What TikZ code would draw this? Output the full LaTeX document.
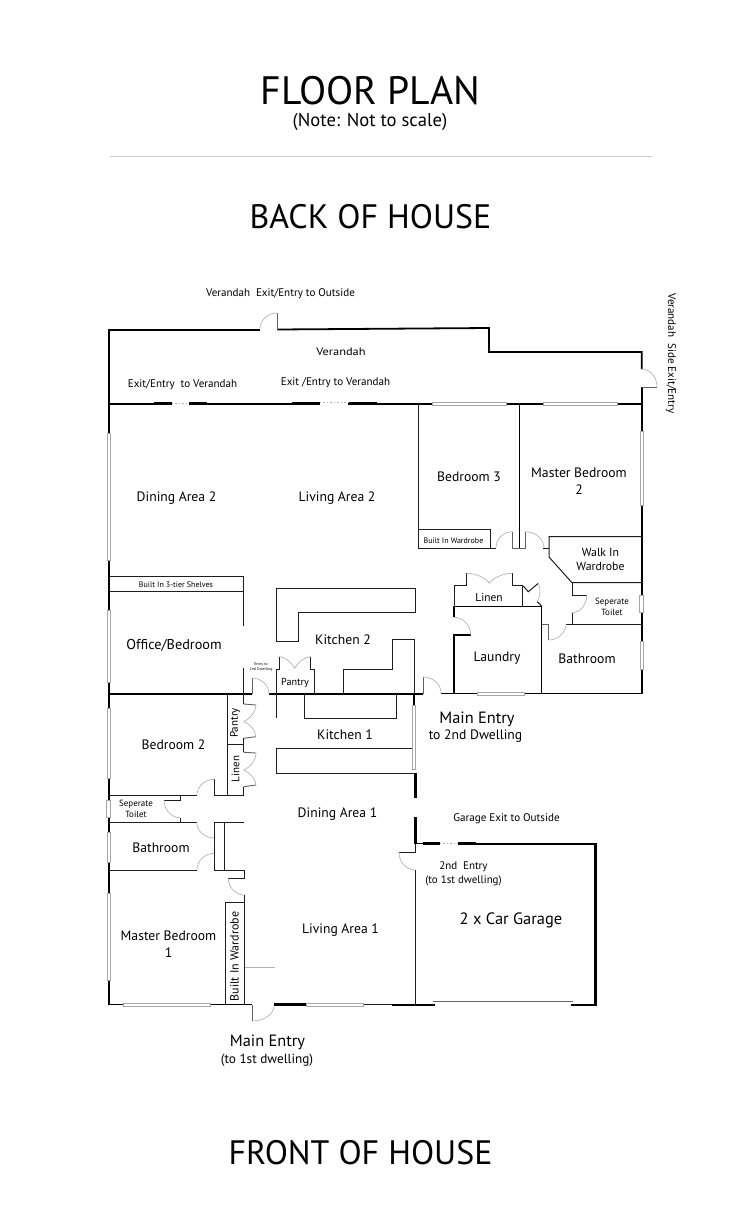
\documentclass[tikz,border=0pt]{standalone}
\usepackage{fontspec}
\setmainfont{PT Sans}
\usetikzlibrary{calc}
\definecolor{wallc}{HTML}{1E1E1E}
\definecolor{swingc}{HTML}{B4B4B4}
\tikzset{
  thin wall/.style={draw=wallc,line width=1pt,line cap=butt},
  mid wall/.style={draw=black,line width=1.5pt,line join=miter},
  heavy wall/.style={draw=black,line width=2.6pt},
  block wall/.style={draw=black,line width=3pt},
  door swing/.style={draw=swingc,line width=0.7pt},
  leaf line/.style={draw=wallc!70,line width=0.9pt},
  window pane/.style={draw=gray!70,fill=white,line width=0.6pt},
  slide line/.style={draw=gray!60,line width=0.6pt,dash pattern=on 1.5pt off 2pt},
  lab/.style={font=\fontsize{13.7}{15.5}\selectfont,text=black,inner sep=0pt,align=center,yshift=-1bp},
  smalllab/.style={font=\fontsize{11.1}{12.5}\selectfont,text=black,inner sep=0pt,align=center,yshift=-1bp},
  tinylab/.style={font=\fontsize{8}{10.5}\selectfont,text=black,inner sep=0pt,align=center,yshift=-0.5bp},
  toiletlab/.style={font=\fontsize{9}{11}\selectfont,text=black,inner sep=0pt,align=center},
  headlab/.style={inner sep=0pt,text=black,yshift=-0.7bp}
}
% door swing from A to B bulging towards corner C
\newcommand{\doorarc}[3]{\draw[door swing] (#1) .. controls ($(#1)!.55!(#3)$) and ($(#2)!.55!(#3)$) .. (#2);}
\newcommand{\vwin}[3]{\filldraw[window pane] (#1-1.4,#2) rectangle (#1+1.4,#3);}
\newcommand{\hwin}[3]{\filldraw[window pane] (#1,#3-1.4) rectangle (#2,#3+1.4);}
\begin{document}
\begin{tikzpicture}[x=1bp,y=-1bp]
\useasboundingbox[fill=white] (0,0) rectangle (750,1232);
% Heading
\node[headlab,font=\fontsize{39.8}{44}\selectfont] (title) at (370.5,90) {FLOOR PLAN};
\node[headlab,font=\fontsize{18.7}{22}\selectfont] (note) at (370,121) {(Note: Not to scale)};
\draw[draw=gray!40,line width=1pt] (110,156.5) -- (652,156.5);
\node[headlab,font=\fontsize{34}{38}\selectfont] (back) at (370.5,216) {BACK OF HOUSE};
\node[headlab,font=\fontsize{34}{38}\selectfont] (front) at (360.5,1152) {FRONT OF HOUSE};

% Verandah outer walls
\draw[mid wall,line width=1.8pt] (260,330) -- (108.7,330) -- (108.7,1004.5) -- (252.3,1004.5);
\draw[mid wall,line width=1.8pt] (277,329.5) -- (489,328) -- (489,352) -- (641.7,352) -- (641.7,369);
\draw[mid wall,line width=1.8pt] (641.7,387) -- (641.7,693.5);
\draw[leaf line] (277,313) -- (277,329.5);
\doorarc{260,329}{277,313}{260,313}
\draw[leaf line] (641.7,387) -- (657,387);
\doorarc{641.7,369}{657,387}{657,369}

% Back wall of house
\draw[mid wall] (108.7,404) -- (172,404);
\draw[mid wall] (189,404) -- (320,404);
\draw[mid wall] (348,404) -- (641.7,404);
\foreach \a/\b in {154/172,189/207,292/320,348/377}{\draw[block wall] (\a,403.5) -- (\b,403.5);}
\draw[slide line] (172,403) -- (189,403);
\draw[slide line] (320,402.5) -- (348,402.5);
\hwin{432}{506}{404}
\hwin{543}{617}{404}

% Left and right windows
\vwin{108.7}{433}{560}
\vwin{108.7}{610}{682}
\vwin{108.7}{708}{778}
\filldraw[window pane] (105.8,800) rectangle (110,817);
\vwin{108.7}{832}{862}
\vwin{108.7}{893}{980}
\vwin{641.7}{431}{505}
\filldraw[window pane] (639.5,595) rectangle (643,612);
\vwin{641.7}{641}{669}

% Central dividing wall
\draw[heavy wall] (110,694) -- (252,694);
\draw[heavy wall] (269,694) -- (423,694);
\draw[mid wall] (441,693.5) -- (641.7,693.5);
\hwin{477}{524}{693.5}
\draw[leaf line] (423,677) -- (423,694);
\doorarc{423,677}{441,693}{441,677}
\draw[leaf line] (252,678) -- (252,694);
\doorarc{252,678}{269,694}{269,678}

% Bedroom 3 and Master Bedroom 2
\draw[thin wall] (418.5,404) -- (418.5,548) -- (496,548);
\draw[thin wall] (418.5,529.5) -- (490.5,529.5) -- (490.5,548);
\draw[mid wall,line width=1.3pt] (519.7,404) -- (519.7,548);
\draw[leaf line] (512.3,531.7) -- (512.3,548) -- (525.7,548) -- (525.7,531.7);
\doorarc{496,548}{512.3,531.7}{496,531.7}
\doorarc{525.7,531.7}{544,548}{544,531.7}

% Walk in wardrobe and separate toilet
\draw[thin wall] (543,548) -- (549,548);
\draw[thin wall] (641.7,536.7) -- (549,536.7) -- (549,557) -- (572,582.7) -- (641.7,582.7);
\draw[thin wall] (572,582.7) -- (572,595) -- (586.7,595);
\draw[thin wall] (572,612.7) -- (572,624);
\draw[thin wall] (566,624) -- (641.7,624);
\doorarc{586.7,595}{572,612.7}{586.7,612.7}
\draw[leaf line] (542,624) -- (548.3,624) -- (548.3,640);
\doorarc{548.3,640}{566,624}{566,640}

% Linen and laundry
\draw[thin wall] (454,606.7) -- (454,585.7) -- (466.7,585.7) -- (466.7,573.3);
\draw[thin wall] (512.3,573.3) -- (512.3,585.7) -- (522.7,585.7) -- (522.7,606.7);
\doorarc{466.7,573.3}{489.3,583.3}{483,573.3}
\doorarc{512.3,573.3}{489.3,583.3}{496,573.3}
\draw[thin wall] (523.3,586) -- (528.3,591.7) -- (538.3,583.3);
\doorarc{538.3,583.3}{537.3,601.7}{543,591}
\draw[thin wall] (537.3,601.7) -- (541.7,606);
\draw[mid wall] (454,617.3) -- (454,606.7) -- (541.7,606.7) -- (541.7,693.5);
\draw[mid wall] (470.7,635) -- (454,635) -- (454,693.5);
\doorarc{470.7,635}{454,617.3}{470.7,617.3}

% Office and shelves
\draw[thin wall] (108.7,576.7) -- (243.3,576.7) -- (243.3,626);
\draw[thin wall] (108.7,591.7) -- (243.3,591.7);
\draw[thin wall] (243.3,668) -- (243.3,694);

% Kitchen 2 benches and pantry
\draw[thin wall] (276.7,588.3) -- (415.3,588.3) -- (415.3,612.7) -- (298.7,612.7) -- (298.7,641.7) -- (276.7,641.7) -- cycle;
\draw[thin wall] (343,694) -- (343,669) -- (392.3,669) -- (392.3,639.7) -- (414.3,639.7) -- (414.3,694);
\draw[thin wall] (276,694) -- (276,669) -- (279.3,669) -- (279.3,656.7);
\draw[thin wall] (310.7,656.7) -- (310.7,669) -- (314.3,669) -- (314.3,694);
\doorarc{279.3,656.7}{294.7,668.3}{289,656.7}
\doorarc{310.7,656.7}{294.7,668.3}{301,656.7}

% Kitchen 1
\draw[thin wall] (276,694) -- (276,718.3);
\draw[thin wall] (304,694) -- (304,718.3) -- (396.7,718.3) -- (396.7,694);
\draw[thin wall] (412.7,748.7) -- (276,748.7) -- (276,773) -- (415,773);
\draw[mid wall] (414,694) -- (414,705);
\vwin{413.5}{705}{769}

% Pantry and linen, central
\draw[thin wall] (227.7,694) -- (227.7,795);
\draw[thin wall] (227.7,744.3) -- (243.7,744.3);
\draw[thin wall] (243.7,694) -- (243.7,704);
\draw[leaf line] (243.7,704) -- (256,705);
\doorarc{256,705}{243.7,721.7}{256,716}
\doorarc{243.7,721.7}{255.7,736.7}{256,726}
\draw[leaf line] (255.7,736.7) -- (243.7,738.3);
\draw[thin wall] (243.7,738.3) -- (243.7,752.3);
\draw[leaf line] (243.7,752.3) -- (256,753);
\doorarc{256,753}{243.7,770}{256,765}
\doorarc{243.7,770}{256,785}{256,775}
\draw[leaf line] (256,785) -- (243.7,786.7);
\draw[thin wall] (243.7,786.7) -- (243.7,795);

% Bedroom 2 block
\draw[thin wall] (108.7,795) -- (197,795);
\draw[thin wall] (214.3,779.3) -- (214.3,795) -- (244,795);
\doorarc{214.3,779.3}{197,795}{197,779.3}
\draw[thin wall] (180,795) -- (180,800) -- (164,800);
\doorarc{164,800}{180,817.7}{164,817.7}
\draw[thin wall] (180,817.7) -- (180,822.3);
\draw[thin wall] (108.7,822.3) -- (196.7,822.3);
\doorarc{196.7,822.3}{214.3,838}{196.7,838}
\draw[thin wall] (244,822.3) -- (214.3,822.3) -- (214.3,870) -- (244.3,870) -- (244.3,878.3) -- (228.3,878.3);
\draw[thin wall] (224.3,822.3) -- (224.3,870);
\draw[thin wall] (108.7,870) -- (197,870);
\doorarc{214.3,853.3}{197,870}{197,853.3}
\doorarc{228.3,878.3}{244.7,895}{228.3,895}

% Master bedroom 1
\draw[thin wall] (244.7,895) -- (244.7,1004.5);
\draw[thin wall] (225.7,1004.5) -- (225.7,902.3) -- (244.7,902.3);
\draw[draw=gray!60,line width=1pt] (245,967.7) -- (275.3,967.7);

% Front wall
\hwin{123.3}{210}{1004.5}
\draw[leaf line] (252.3,1004.5) -- (252.3,1021);
\doorarc{252.3,1021}{274.3,1005}{274.3,1021}
\draw[heavy wall] (274.3,1004.5) -- (306.7,1004.5);
\draw[thin wall] (363,1004.5) -- (392,1004.5);
\filldraw[window pane] (306.7,1002.8) rectangle (363,1005.8);

% Garage
\draw[heavy wall] (415.6,773) -- (415.6,798);
\draw[heavy wall] (415.6,817) -- (415.6,843.5);
\draw[thin wall] (415.3,843) -- (415.3,852.3) -- (399,852.3);
\doorarc{399,852.3}{415.3,870}{399,870}
\draw[thin wall] (415.3,870) -- (415.3,1005);
\draw[mid wall] (415.3,843.5) -- (440,843.5);
\draw[heavy wall] (422.7,843.5) -- (440,843.5);
\draw[slide line] (440,842.8) -- (458,842.8);
\draw[heavy wall] (458,843.7) -- (475.7,843.7);
\draw[heavy wall] (475.7,844) -- (595.7,844) -- (595.7,1005) -- (571,1005);
\draw[heavy wall] (391.7,1005) -- (435,1005);
\draw[draw=gray!80!black,line width=0.8pt] (433,1001.7) -- (572.7,1001.7);

% Labels
\node[smalllab] (l1) at (280.5,292.5) {Verandah\ \ Exit/Entry to Outside};
\node[smalllab,font=\fontsize{10.8}{12}\selectfont,xscale=1.15] (l2) at (341,351) {Verandah};
\node[smalllab,rotate=-90,yshift=1bp,xshift=1bp] (l3) at (670,351.5) {Verandah\ \ Side Exit/Entry};
\node[smalllab] (l4) at (182.5,384) {Exit/Entry\ \ to Verandah};
\node[smalllab] (l5) at (335.5,382) {Exit /Entry to Verandah};
\node[lab] (l6) at (176.5,497.5) {Dining Area 2};
\node[lab] (l7) at (337,497.5) {Living Area 2};
\node[lab] (l8) at (469,476) {Bedroom 3};
\node[lab,font=\fontsize{13.7}{17}\selectfont] (l9) at (579,480) {Master Bedroom\\2};
\node[tinylab] (l10) at (453.5,540) {Built In Wardrobe};
\node[smalllab,font=\fontsize{11.8}{14}\selectfont] (l11) at (600.5,558) {Walk In\\Wardrobe};
\node[smalllab,font=\fontsize{11.5}{14}\selectfont] (l12) at (489,597) {Linen};
\node[toiletlab] (l13) at (612,607) {Seperate\\Toilet};
\node[lab] (l14) at (497,657) {Laundry};
\node[lab] (l15) at (587,658) {Bathroom};
\node[lab,font=\fontsize{16.4}{17}\selectfont] (l16) at (477,718) {Main Entry};
\node[lab] (l17) at (475.5,735) {to 2nd Dwelling};
\node[lab] (l18) at (343,638.5) {Kitchen 2};
\node[lab] (l19) at (345,734) {Kitchen 1};
\node[smalllab,font=\fontsize{10.2}{13}\selectfont] (l20) at (295,682) {Pantry};
\node[tinylab] (l21) at (176,584) {Built In 3-tier Shelves};
\node[lab,font=\fontsize{14.3}{16}\selectfont] (l22) at (174,644.5) {Office/Bedroom};
\node[inner sep=0pt,font=\fontsize{4}{4.6}\selectfont,align=center] (l23) at (261,667) {Entry to\\2nd Dwelling};
\node[lab] (l24) at (173.5,743.5) {Bedroom 2};
\node[smalllab,rotate=90,font=\fontsize{11}{13}\selectfont] (l25) at (235,722) {Pantry};
\node[smalllab,rotate=90,font=\fontsize{11}{13}\selectfont] (l26) at (235.5,768) {Linen};
\node[toiletlab] (l27) at (136,808.5) {Seperate\\Toilet};
\node[lab] (l28) at (161,846.5) {Bathroom};
\node[lab] (l29) at (337.5,813) {Dining Area 1};
\node[lab] (l30) at (340.5,929) {Living Area 1};
\node[lab,font=\fontsize{13.7}{17}\selectfont] (l31) at (168.5,943) {Master Bedroom\\1};
\node[smalllab,rotate=90,font=\fontsize{12}{14}\selectfont] (l32) at (234.5,955.5) {Built In Wardrobe};
\node[smalllab] (l33) at (506.5,818) {Garage Exit to Outside};
\node[smalllab,font=\fontsize{11}{13.5}\selectfont] (l34) at (463.5,873) {2nd\ \ Entry\\(to 1st dwelling)};
\node[lab,font=\fontsize{16.5}{18}\selectfont] (l35) at (511,919.5) {2 x Car Garage};
\node[lab,font=\fontsize{16.4}{17}\selectfont] (l36) at (267.5,1041) {Main Entry};
\node[smalllab,font=\fontsize{13.3}{14}\selectfont] (l37) at (267,1059) {(to 1st dwelling)};
\end{tikzpicture}
\end{document}
